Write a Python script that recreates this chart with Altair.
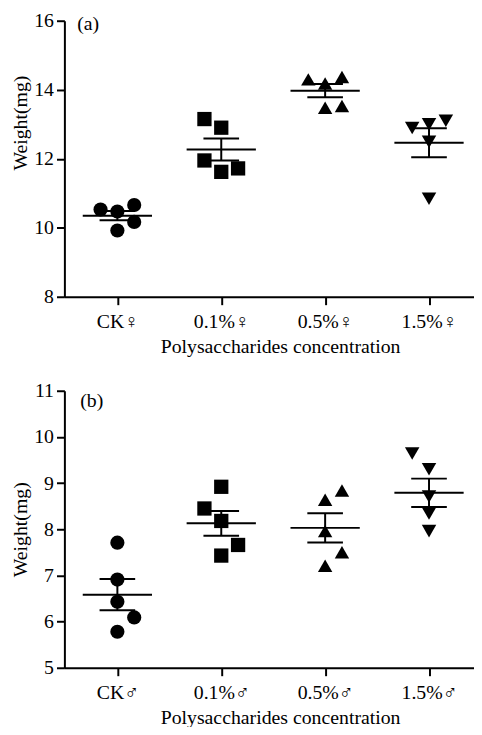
import altair as alt
import pandas as pd

FONT = "Liberation Serif, DejaVu Sans"

groups = [1, 2, 3, 4]
shapes = ["circle", "square", "triangle-up", "triangle-down"]
labels_f = ["CK♀", "0.1%♀", "0.5%♀", "1.5%♀"]
labels_m = ["CK♂", "0.1%♂", "0.5%♂", "1.5%♂"]

female_ck = [10.53, 10.47, 10.66, 10.17, 9.92]
female_01 = [13.15, 12.90, 11.95, 11.62, 11.72]
female_05 = [14.30, 14.18, 14.37, 13.48, 13.53]
female_15 = [12.89, 13.00, 13.10, 12.49, 10.84]
female_slot = [[-1, 0, 1, 1, 0], [-1, 0, -1, 0, 1], [-1, 0, 1, 0, 1], [-1, 0, 1, 0, 0]]

male_ck = [7.71, 6.91, 6.43, 6.09, 5.78]
male_01 = [8.92, 8.45, 8.18, 7.66, 7.43]
male_05 = [8.84, 8.64, 7.96, 7.50, 7.21]
male_15 = [9.64, 9.30, 8.71, 8.34, 7.96]
male_slot = [[0, 0, 0, 1, 0], [0, -1, 0, 1, 0], [1, 0, 0, 1, 0], [-1, 0, 0, 0, 0]]


def make_df(series, slots):
    rows = []
    for g, vals, sl in zip(groups, series, slots):
        for v, s in zip(vals, sl):
            rows.append({"group": g, "value": v, "slot": s})
    return pd.DataFrame(rows)


def panel(df, labels, ydom, yvals, tag, tag_x, tag_y, h, ytitle_y=None):
    xscale = alt.Scale(domain=[0.49, 4.433], nice=False, zero=False)
    yscale = alt.Scale(domain=ydom, nice=False, zero=False)
    label_expr = "[" + ",".join("'" + l + "'" for l in labels) + "][datum.value-1]"
    xaxis = alt.Axis(values=groups, labelExpr=label_expr,
                     title="Polysaccharides concentration", labelPadding=7,
                     titlePadding=5, titleX=218)
    yargs = dict(values=yvals, title="Weight(mg)", titlePadding=3, labelPadding=3)
    if ytitle_y is not None:
        yargs["titleY"] = ytitle_y
    yaxis = alt.Axis(**yargs)

    base = alt.Chart(df)
    points = base.transform_calculate(
        xpos="datum.group + datum.slot * 0.162"
    ).mark_point(filled=True, opacity=1, color="black").encode(
        x=alt.X("xpos:Q", scale=xscale, axis=xaxis),
        y=alt.Y("value:Q", scale=yscale, axis=yaxis),
        shape=alt.Shape("group:N", scale=alt.Scale(domain=groups, range=shapes), legend=None),
        size=alt.Size("group:N", scale=alt.Scale(domain=groups, range=[205, 215, 175, 175]), legend=None),
    )
    agg = base.transform_aggregate(
        mean="mean(value)", sem="stderr(value)", groupby=["group"]
    ).transform_calculate(lo="datum.mean - datum.sem", hi="datum.mean + datum.sem")
    mean_line = agg.mark_tick(orient="horizontal", size=70, thickness=2, color="black", opacity=1).encode(
        x=alt.X("group:Q", scale=xscale), y=alt.Y("mean:Q", scale=yscale))
    err = agg.mark_rule(color="black", strokeWidth=2).encode(
        x=alt.X("group:Q", scale=xscale), y=alt.Y("lo:Q", scale=yscale), y2="hi:Q")
    cap_lo = agg.mark_tick(orient="horizontal", size=36, thickness=2, color="black", opacity=1).encode(
        x=alt.X("group:Q", scale=xscale), y=alt.Y("lo:Q", scale=yscale))
    cap_hi = agg.mark_tick(orient="horizontal", size=36, thickness=2, color="black", opacity=1).encode(
        x=alt.X("group:Q", scale=xscale), y=alt.Y("hi:Q", scale=yscale))
    tag_text = alt.Chart(pd.DataFrame({"t": [tag]})).mark_text(
        align="left", baseline="middle", font=FONT, fontSize=20, color="black"
    ).encode(text="t:N", x=alt.value(tag_x), y=alt.value(tag_y))
    return alt.layer(points, mean_line, err, cap_lo, cap_hi, tag_text).properties(width=414, height=h)


df_f = make_df([female_ck, female_01, female_05, female_15], female_slot)
df_m = make_df([male_ck, male_01, male_05, male_15], male_slot)

top = panel(df_f, labels_f, [8, 16], [8, 10, 12, 14, 16], "(a)", 13, 3, 279, ytitle_y=103)
bottom = panel(df_m, labels_m, [5, 11], [5, 6, 7, 8, 9, 10, 11], "(b)", 16, 10, 280)

chart = alt.vconcat(top, bottom, spacing=25).configure_view(stroke=None).configure_axis(
    labelFont=FONT, titleFont=FONT, labelFontSize=20, titleFontSize=20,
    titleFontWeight="normal", labelColor="black", titleColor="black",
    domainColor="black", tickColor="black", domainWidth=2, tickWidth=2, tickSize=8,
    grid=False,
).properties(padding={"left": 3, "top": -1, "right": 0, "bottom": -4})

chart.save("out.html", embed_options={"renderer": "svg", "actions": False})
